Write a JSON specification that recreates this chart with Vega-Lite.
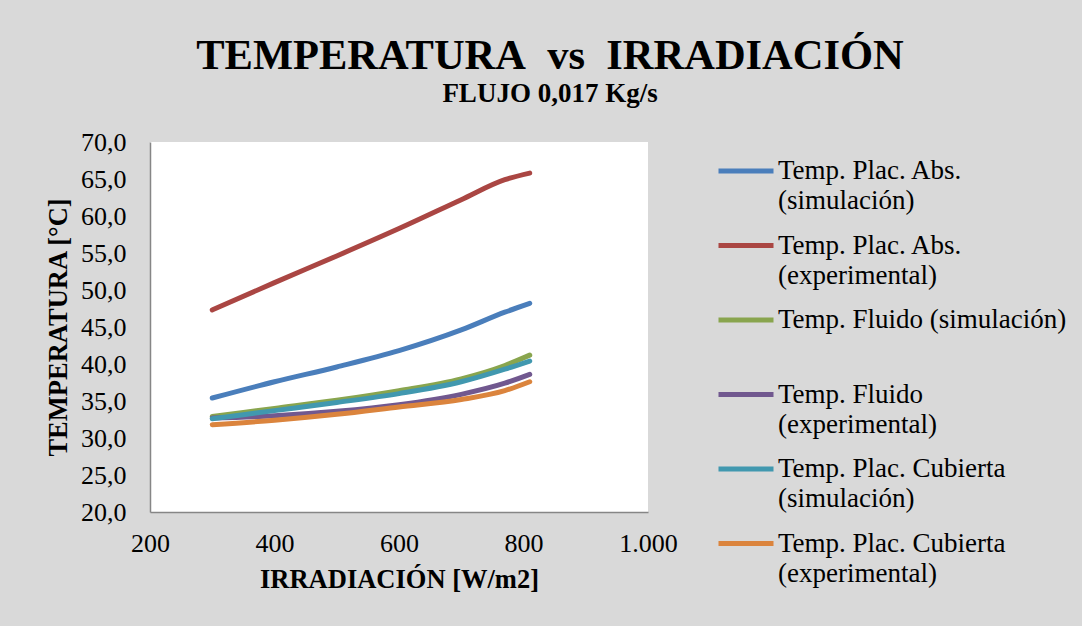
{
  "$schema": "https://vega.github.io/schema/vega-lite/v6.json",
  "width": 498,
  "height": 370,
  "autosize": {"type": "none"},
  "padding": {"left": 150, "top": 142, "right": 434, "bottom": 114},
  "background": "#d9d9d9",
  "title": {
    "text": "TEMPERATURA\u00a0\u00a0vs\u00a0\u00a0IRRADIACIÓN",
    "subtitle": "FLUJO 0,017 Kg/s",
    "anchor": "middle",
    "frame": "group",
    "dx": 151,
    "font": "Liberation Serif",
    "fontSize": 42.5,
    "fontWeight": "bold",
    "color": "black",
    "subtitleFont": "Liberation Serif",
    "subtitleFontSize": 27,
    "subtitleFontWeight": "bold",
    "subtitleColor": "black",
    "subtitlePadding": 4,
    "offset": 22
  },
  "data": {
    "values": [
      {"serie": "Temp. Plac. Abs. (simulación)", "irr": 300, "temp": 35.4},
      {"serie": "Temp. Plac. Abs. (simulación)", "irr": 400, "temp": 37.6},
      {"serie": "Temp. Plac. Abs. (simulación)", "irr": 500, "temp": 39.6},
      {"serie": "Temp. Plac. Abs. (simulación)", "irr": 600, "temp": 41.8},
      {"serie": "Temp. Plac. Abs. (simulación)", "irr": 700, "temp": 44.6},
      {"serie": "Temp. Plac. Abs. (simulación)", "irr": 770, "temp": 47.0},
      {"serie": "Temp. Plac. Abs. (simulación)", "irr": 810, "temp": 48.2},
      {"serie": "Temp. Plac. Abs. (experimental)", "irr": 300, "temp": 47.3},
      {"serie": "Temp. Plac. Abs. (experimental)", "irr": 400, "temp": 51.0},
      {"serie": "Temp. Plac. Abs. (experimental)", "irr": 500, "temp": 54.6},
      {"serie": "Temp. Plac. Abs. (experimental)", "irr": 600, "temp": 58.3},
      {"serie": "Temp. Plac. Abs. (experimental)", "irr": 700, "temp": 62.2},
      {"serie": "Temp. Plac. Abs. (experimental)", "irr": 770, "temp": 64.9},
      {"serie": "Temp. Plac. Abs. (experimental)", "irr": 810, "temp": 65.8},
      {"serie": "Temp. Fluido (simulación)", "irr": 300, "temp": 32.9},
      {"serie": "Temp. Fluido (simulación)", "irr": 400, "temp": 34.0},
      {"serie": "Temp. Fluido (simulación)", "irr": 500, "temp": 35.1},
      {"serie": "Temp. Fluido (simulación)", "irr": 600, "temp": 36.4},
      {"serie": "Temp. Fluido (simulación)", "irr": 700, "temp": 38.0},
      {"serie": "Temp. Fluido (simulación)", "irr": 770, "temp": 39.8},
      {"serie": "Temp. Fluido (simulación)", "irr": 810, "temp": 41.2},
      {"serie": "Temp. Fluido (experimental)", "irr": 300, "temp": 32.7},
      {"serie": "Temp. Fluido (experimental)", "irr": 400, "temp": 33.0},
      {"serie": "Temp. Fluido (experimental)", "irr": 500, "temp": 33.6},
      {"serie": "Temp. Fluido (experimental)", "irr": 600, "temp": 34.5},
      {"serie": "Temp. Fluido (experimental)", "irr": 700, "temp": 35.9},
      {"serie": "Temp. Fluido (experimental)", "irr": 770, "temp": 37.4},
      {"serie": "Temp. Fluido (experimental)", "irr": 810, "temp": 38.6},
      {"serie": "Temp. Plac. Cubierta (simulación)", "irr": 300, "temp": 32.6},
      {"serie": "Temp. Plac. Cubierta (simulación)", "irr": 400, "temp": 33.7},
      {"serie": "Temp. Plac. Cubierta (simulación)", "irr": 500, "temp": 34.8},
      {"serie": "Temp. Plac. Cubierta (simulación)", "irr": 600, "temp": 36.0},
      {"serie": "Temp. Plac. Cubierta (simulación)", "irr": 700, "temp": 37.6},
      {"serie": "Temp. Plac. Cubierta (simulación)", "irr": 770, "temp": 39.3},
      {"serie": "Temp. Plac. Cubierta (simulación)", "irr": 810, "temp": 40.4},
      {"serie": "Temp. Plac. Cubierta (experimental)", "irr": 300, "temp": 31.8},
      {"serie": "Temp. Plac. Cubierta (experimental)", "irr": 400, "temp": 32.4},
      {"serie": "Temp. Plac. Cubierta (experimental)", "irr": 500, "temp": 33.2},
      {"serie": "Temp. Plac. Cubierta (experimental)", "irr": 600, "temp": 34.2},
      {"serie": "Temp. Plac. Cubierta (experimental)", "irr": 700, "temp": 35.2},
      {"serie": "Temp. Plac. Cubierta (experimental)", "irr": 770, "temp": 36.4},
      {"serie": "Temp. Plac. Cubierta (experimental)", "irr": 810, "temp": 37.6}
    ]
  },
  "mark": {"type": "line", "interpolate": "monotone", "strokeWidth": 5, "strokeCap": "round"},
  "encoding": {
    "x": {
      "field": "irr",
      "type": "quantitative",
      "scale": {"domain": [200, 1000], "nice": false, "zero": false},
      "axis": {
        "title": "IRRADIACIÓN [W/m2]",
        "values": [200, 400, 600, 800, 1000],
        "format": ",d",
        "labelFlush": false,
        "labelPadding": 18,
        "titlePadding": 10
      }
    },
    "y": {
      "field": "temp",
      "type": "quantitative",
      "scale": {"domain": [20, 70], "nice": false, "zero": false},
      "axis": {
        "title": "TEMPERATURA [°C]",
        "values": [20, 25, 30, 35, 40, 45, 50, 55, 60, 65, 70],
        "format": ".1f",
        "labelPadding": 24,
        "titlePadding": 8
      }
    },
    "color": {
      "field": "serie",
      "type": "nominal",
      "scale": {
        "domain": [
          "Temp. Plac. Abs. (simulación)",
          "Temp. Plac. Abs. (experimental)",
          "Temp. Fluido (simulación)",
          "Temp. Fluido (experimental)",
          "Temp. Plac. Cubierta (simulación)",
          "Temp. Plac. Cubierta (experimental)"
        ],
        "range": ["#4a7ebb", "#aa4643", "#89a54e", "#71588f", "#4198af", "#db843d"]
      },
      "legend": {
        "title": null,
        "orient": "none",
        "legendX": 566,
        "legendY": -1,
        "padding": 0,
        "symbolType": "stroke",
        "symbolSize": 3025,
        "symbolStrokeWidth": 5,
        "labelOffset": 2,
        "labelFont": "Liberation Serif",
        "labelFontSize": 27,
        "labelColor": "black",
        "labelLimit": 400,
        "rowPadding": 1.5,
        "labelExpr": "datum.label == 'Temp. Fluido (simulación)' ? [datum.label, ' '] : [slice(datum.label, 0, indexof(datum.label, ' (')), slice(datum.label, indexof(datum.label, ' (') + 1)]",
        "encoding": {
          "labels": {"lineHeight": {"value": 30}}
        }
      }
    }
  },
  "config": {
    "locale": {
      "number": {"decimal": ",", "thousands": ".", "grouping": [3], "currency": ["", " €"]}
    },
    "view": {"fill": "white", "stroke": null},
    "axis": {
      "grid": false,
      "ticks": false,
      "domainColor": "#868686",
      "domainWidth": 1.5,
      "labelFont": "Liberation Serif",
      "labelFontSize": 26,
      "labelColor": "black",
      "titleFont": "Liberation Serif",
      "titleFontSize": 26.5,
      "titleFontWeight": "bold",
      "titleColor": "black"
    }
  }
}
